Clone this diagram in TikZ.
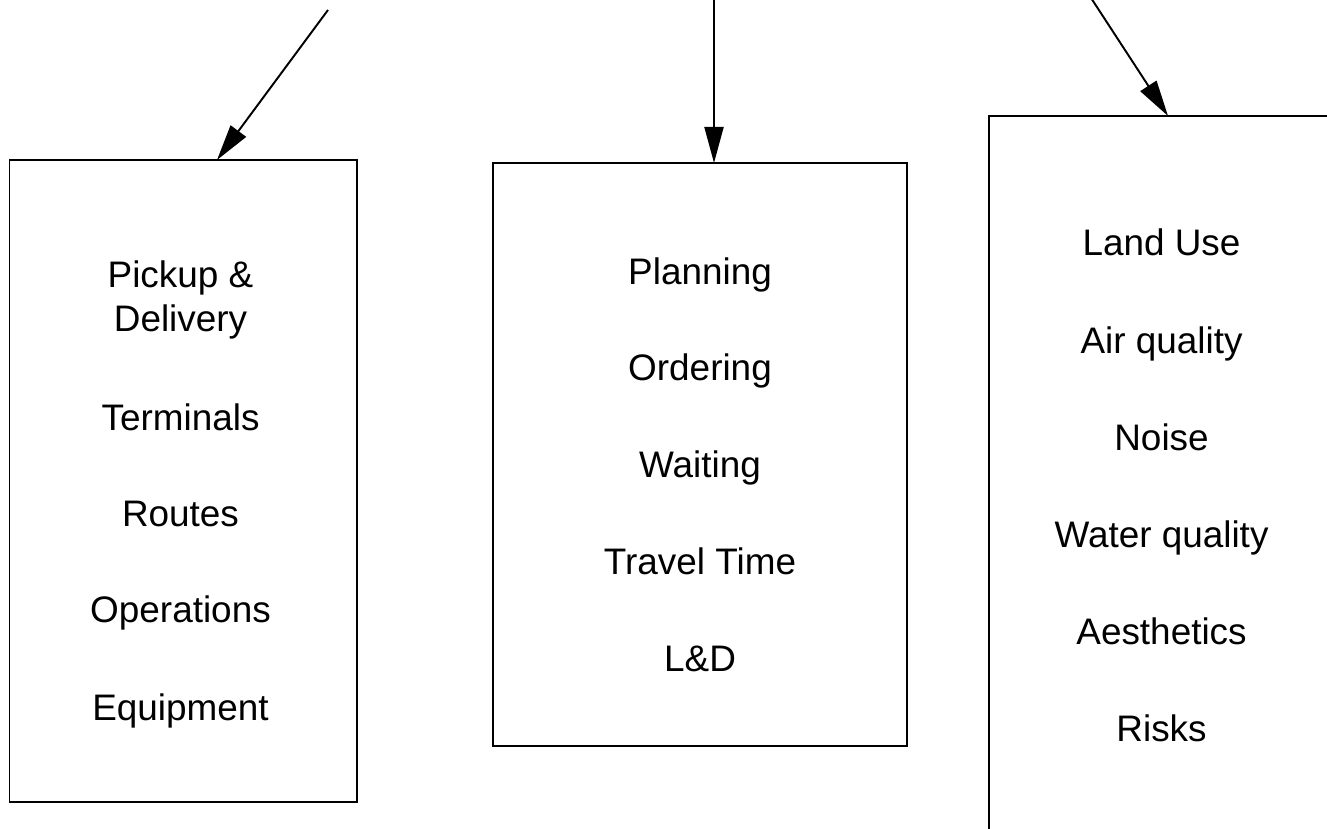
\documentclass[tikz,border=0pt]{standalone}
\usepackage{fontspec}
\setmainfont{Liberation Sans}
\usetikzlibrary{arrows.meta}
\tikzset{
  listbox/.style={draw=black, line width=1.1pt, rectangle, inner sep=0pt, outer sep=0pt},
  entry/.style={anchor=base, font=\fontsize{21}{25}\selectfont, align=center},
  feed/.style={line width=1.1pt, -{Triangle[length=0.72cm, width=0.38cm]}}
}

\begin{document}
\begin{tikzpicture}
    \useasboundingbox (0,0) rectangle (26.54,16.56);

    % left box
    \node[listbox, minimum width=6.95cm, minimum height=12.84cm] (b1) at (3.665,6.94) {};
    \node[entry] (pickup) at (3.61,10.81) {Pickup \&};
    \node[entry] (delivery) at (3.61,9.93) {Delivery};
    \node[entry] (terminals) at (3.61,7.95) {Terminals};
    \node[entry] (routes) at (3.61,6.03) {Routes};
    \node[entry] (operations) at (3.61,4.11) {Operations};
    \node[entry] (equipment) at (3.61,2.16) {Equipment};

    % middle box
    \node[listbox, minimum width=8.28cm, minimum height=11.66cm] (b2) at (14.0,7.47) {};
    \node[entry] (planning) at (14.0,10.88) {Planning};
    \node[entry] (ordering) at (14.0,8.96) {Ordering};
    \node[entry] (waiting) at (14.0,7.01) {Waiting};
    \node[entry] (travel) at (14.0,5.07) {Travel Time};
    \node[entry] (ld) at (14.0,3.13) {L\&D};

    % right box
    \node[listbox, minimum width=6.9cm, minimum height=14.74cm] (b3) at (23.23,6.87) {};
    \node[entry] (landuse) at (23.23,11.44) {Land Use};
    \node[entry] (air) at (23.23,9.50) {Air quality};
    \node[entry] (noise) at (23.23,7.56) {Noise};
    \node[entry] (water) at (23.23,5.61) {Water quality};
    \node[entry] (aesthetics) at (23.23,3.67) {Aesthetics};
    \node[entry] (risks) at (23.23,1.73) {Risks};

    % incoming arrows
    \coordinate (in1) at (6.56,16.36);
    \coordinate (in2) at (14.28,17.0);
    \coordinate (in3) at (21.56,17.0);
    \draw[feed] (in1) -- ([xshift=4.15cm]b1.north west);
    \draw[feed] (in2) -- ([xshift=4.42cm]b2.north west);
    \draw[feed] (in3) -- ([xshift=3.58cm]b3.north west);
\end{tikzpicture}
\end{document}
